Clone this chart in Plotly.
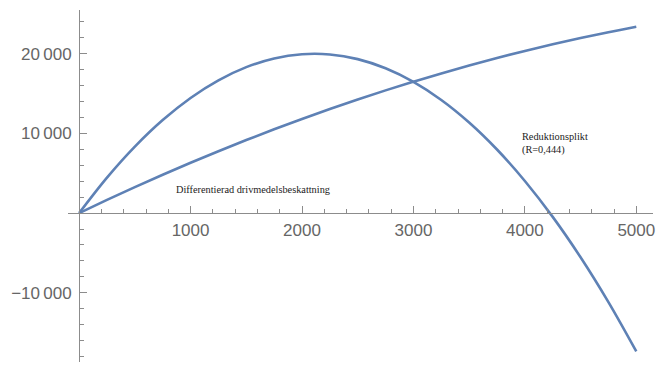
import plotly.graph_objects as go

# Sampled values of the two policy curves
x_vals = [0, 250, 500, 750, 1000, 1250, 1500, 1750, 2000, 2250, 2500,
          2750, 3000, 3250, 3500, 3750, 4000, 4250, 4500, 4750, 5000]
reduktionsplikt = [0, 4455, 8349, 11683, 14457, 16670, 18323, 19416, 19948,
                   19920, 19331, 18182, 16473, 14203, 11373, 7983, 4032,
                   -479, -5551, -11182, -17375]
differentierad = [0, 1657, 3262, 4817, 6320, 7772, 9172, 10522, 11820,
                  13067, 14262, 15407, 16500, 17542, 18532, 19472, 20360,
                  21197, 21982, 22717, 23400]

x_ticks = [1000, 2000, 3000, 4000, 5000]
x_ticktext = ["1000", "2000", "3000", "4000", "5000"]
y_ticks = [-10000, 10000, 20000]
y_ticktext = ["\u221210\u2009000", "10\u2009000", "20\u2009000"]

x_range = [-100, 5150]
y_range = [-18700, 25500]

line_color = "#5E81B5"
axis_color = "#8c8c8c"
tick_font = dict(family="Liberation Sans, Arial, sans-serif", size=17, color="#666666")

fig = go.Figure()
for ys in (reduktionsplikt, differentierad):
    fig.add_trace(go.Scatter(x=x_vals, y=ys, mode="lines",
                             line=dict(color=line_color, width=2.6, shape="spline"),
                             showlegend=False, hoverinfo="skip"))

# Axes cross at the origin
x_pos = (0 - y_range[0]) / (y_range[1] - y_range[0])
y_pos = (0 - x_range[0]) / (x_range[1] - x_range[0])

fig.update_layout(
    width=659, height=367,
    margin=dict(l=68, r=4, t=10, b=5),
    paper_bgcolor="white", plot_bgcolor="white",
    xaxis=dict(range=x_range, anchor="free", position=x_pos,
               showline=True, linecolor=axis_color, linewidth=1,
               showgrid=False, zeroline=False,
               tickvals=x_ticks, ticktext=x_ticktext,
               ticks="inside", ticklen=7, tickcolor=axis_color,
               ticklabelstandoff=2, tickfont=tick_font,
               minor=dict(dtick=200, tick0=0, ticks="inside", ticklen=4,
                          tickcolor=axis_color, showgrid=False)),
    yaxis=dict(range=y_range, anchor="free", position=y_pos,
               showline=True, linecolor=axis_color, linewidth=1,
               showgrid=False, zeroline=False,
               tickvals=y_ticks, ticktext=y_ticktext,
               ticks="inside", ticklen=7, tickcolor=axis_color,
               ticklabelstandoff=4, tickfont=tick_font,
               minor=dict(dtick=2000, tick0=0, ticks="inside", ticklen=4,
                          tickcolor=axis_color, showgrid=False)),
)

label_font = dict(family="Liberation Serif, Times New Roman, serif", size=10.3, color="#222222")
fig.add_annotation(x=850, y=3000, text="Differentierad drivmedelsbeskattning",
                   showarrow=False, xanchor="left", yanchor="middle", font=label_font)
fig.add_annotation(x=3960, y=8700, text="Reduktionsplikt<br>(R=0,444)",
                   showarrow=False, xanchor="left", yanchor="middle", align="left",
                   font=label_font)

fig.write_html("out.html")
